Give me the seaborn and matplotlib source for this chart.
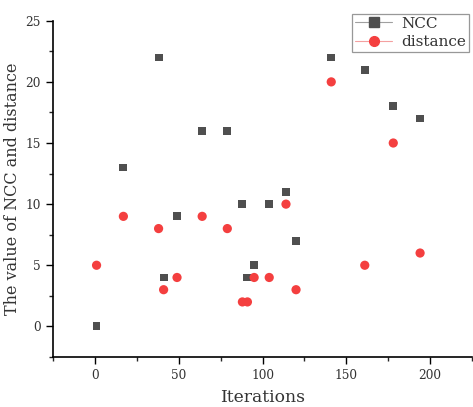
import numpy as np
import pandas as pd
import matplotlib
matplotlib.use("Agg")
import matplotlib.pyplot as plt
from matplotlib.lines import Line2D
from matplotlib.ticker import MultipleLocator
import seaborn as sns

iterations = [1, 17, 38, 41, 49, 64, 79, 88, 91, 95, 104, 114, 120, 141, 161, 178, 194]
ncc = [0, 13, 22, 4, 9, 16, 16, 10, 4, 5, 10, 11, 7, 22, 21, 18, 17]
distance = [5, 9, 8, 3, 4, 9, 8, 2, 2, 4, 4, 10, 3, 20, 5, 15, 6]
series_names = ["NCC", "distance"]

sns.set_style("ticks")
plt.rcParams['font.family'] = ['DejaVu Serif']

df = pd.DataFrame({
    "Iterations": iterations * 2,
    "value": ncc + distance,
    "series": [series_names[0]] * len(iterations) + [series_names[1]] * len(iterations),
})

sq_color = "#4f4f4f"
rd_color = "#f43f3f"

fig = plt.figure(figsize=(4.73, 4.07), dpi=100)
ax = fig.add_axes([0.112, 0.123, 0.886, 0.826])

sns.scatterplot(data=df, x="Iterations", y="value", hue="series", style="series",
                markers={"NCC": "s", "distance": "o"},
                size="series", sizes={"NCC": 32, "distance": 44},
                palette={"NCC": sq_color, "distance": rd_color},
                linewidth=0, edgecolor="none", ax=ax, legend=False, zorder=3)

ax.set_xlim(-25, 225)
ax.set_ylim(-2.5, 25)
ax.xaxis.set_major_locator(MultipleLocator(50))
ax.xaxis.set_minor_locator(MultipleLocator(25))
ax.yaxis.set_major_locator(MultipleLocator(5))
ax.yaxis.set_minor_locator(MultipleLocator(2.5))
ax.tick_params(which="major", direction="out", length=5, width=1, labelsize=8.7, colors="black", pad=4)
ax.tick_params(which="minor", direction="out", length=3, width=1)
for lab in ax.get_xticklabels() + ax.get_yticklabels():
    lab.set_color("#333333")
for side in ["top", "right"]:
    ax.spines[side].set_visible(False)
for side in ["left", "bottom"]:
    ax.spines[side].set_linewidth(1.2)
    ax.spines[side].set_color("black")

ax.set_xlabel("Iterations", fontsize=12.3, color="#333333", labelpad=5)
ax.set_ylabel("The value of NCC and distance", fontsize=11.5, color="#333333", labelpad=3)

handles = [
    Line2D([], [], color="#a0a0a0", lw=0.8, marker="s", markersize=6.5,
           markerfacecolor=sq_color, markeredgecolor=sq_color),
    Line2D([], [], color="#f4a0a0", lw=0.8, marker="o", markersize=7,
           markerfacecolor=rd_color, markeredgecolor=rd_color),
]
leg = ax.legend(handles, series_names, loc="upper right", bbox_to_anchor=(1.0, 1.03),
                frameon=True, fancybox=False, fontsize=11, handlelength=2.4,
                borderpad=0.2, labelspacing=0.3, handletextpad=0.6, borderaxespad=0.2)
leg.get_frame().set_edgecolor("#7f7f7f")
leg.get_frame().set_linewidth(0.9)
for t in leg.get_texts():
    t.set_color("#333333")

fig.savefig("out.png", dpi=100)
